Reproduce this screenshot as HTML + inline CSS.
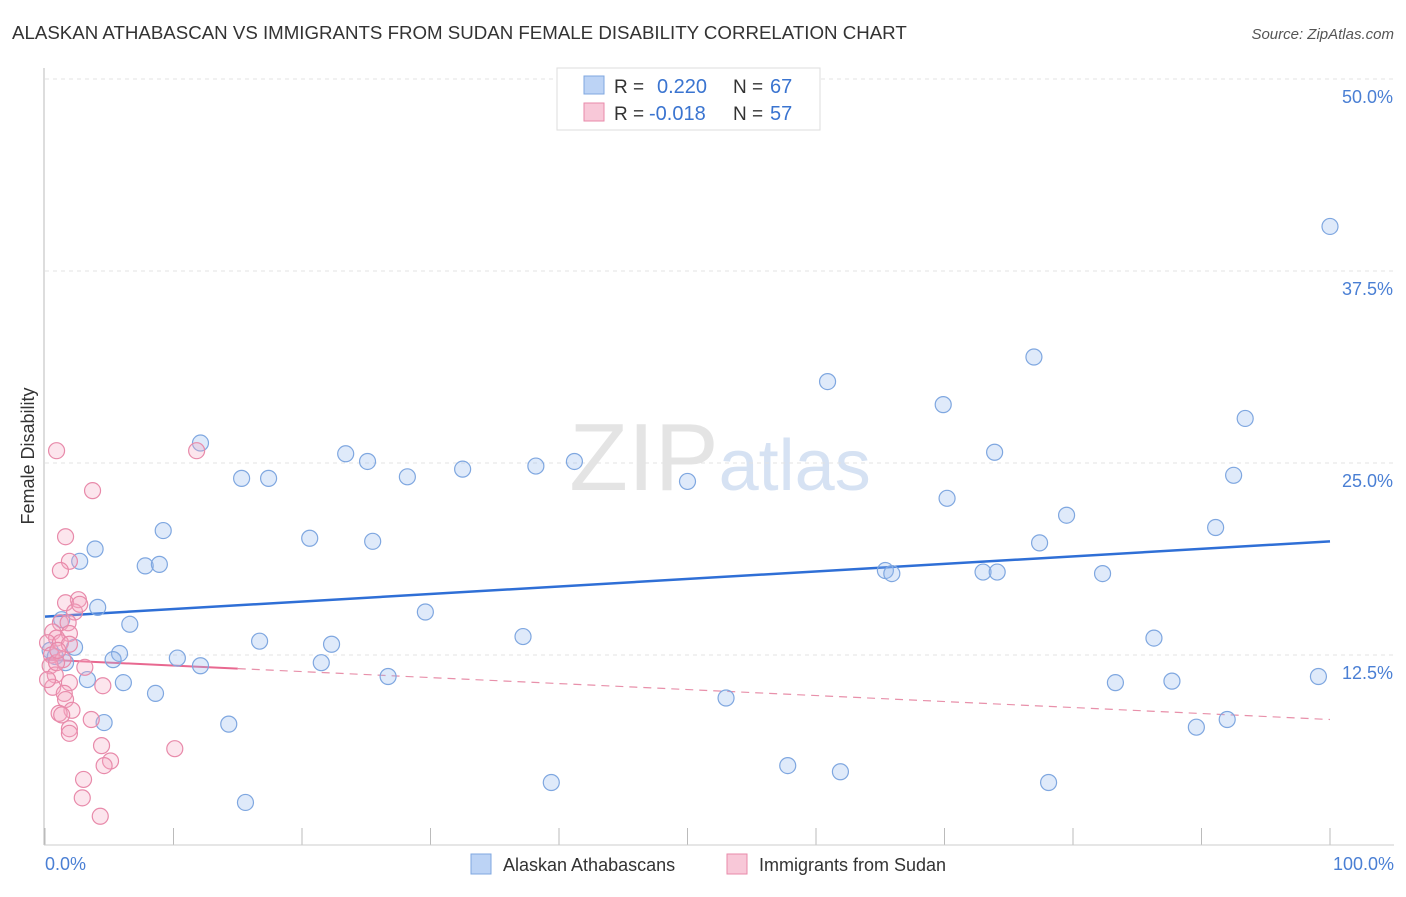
<!DOCTYPE html>
<html><head><meta charset="utf-8"><style>
body{margin:0;background:#fff;font-family:"Liberation Sans",sans-serif;}
svg text{font-family:"Liberation Sans",sans-serif;}
</style></head><body>
<svg id="chart" width="1406" height="892" viewBox="0 0 1406 892" xmlns="http://www.w3.org/2000/svg">
<text x="12" y="39" font-size="18.7" fill="#333">ALASKAN ATHABASCAN VS IMMIGRANTS FROM SUDAN FEMALE DISABILITY CORRELATION CHART</text>
<text x="1394" y="39" font-size="15" fill="#555" font-style="italic" text-anchor="end">Source: ZipAtlas.com</text>
<text x="720" y="490" font-size="96" fill="#e4e4e4" text-anchor="middle" font-family="Liberation Serif"><tspan>ZIP</tspan><tspan fill="#d6e2f3" font-family="Liberation Sans" font-size="72">atlas</tspan></text>
<g id="grid"></g>
<line x1="44" y1="68" x2="44" y2="845" stroke="#bbb"/>
<line x1="44" y1="845" x2="1394" y2="845" stroke="#ccc"/>
<text transform="translate(34,456) rotate(-90)" font-size="18" fill="#333" text-anchor="middle">Female Disability</text>
<text x="45" y="870" font-size="18" fill="#4a7fd4">0.0%</text>
<text x="1394" y="870" font-size="18" fill="#4a7fd4" text-anchor="end">100.0%</text>
<g id="lines"></g>
<g id="points"></g>
<g>
<rect x="557" y="68" width="263" height="62" fill="#fff" stroke="#ddd"/>
<rect x="584" y="76" width="20" height="18" fill="#bcd3f5" stroke="#7fa7e0"/>
<rect x="584" y="103" width="20" height="18" fill="#f8c8d8" stroke="#e88aaa"/>
<text x="614" y="93" font-size="19" fill="#333">R = </text><text x="657" y="93" font-size="20" fill="#3a74d0">0.220</text>
<text x="733" y="93" font-size="19" fill="#333">N = </text><text x="770" y="93" font-size="20" fill="#3a74d0">67</text>
<text x="614" y="120" font-size="19" fill="#333">R = </text><text x="649" y="120" font-size="20" fill="#3a74d0">-0.018</text>
<text x="733" y="120" font-size="19" fill="#333">N = </text><text x="770" y="120" font-size="20" fill="#3a74d0">57</text>
</g>
<g>
<rect x="471" y="854" width="20" height="20" fill="#bcd3f5" stroke="#7fa7e0"/>
<text x="503" y="871" font-size="18" fill="#333">Alaskan Athabascans</text>
<rect x="727" y="854" width="20" height="20" fill="#f8c8d8" stroke="#e88aaa"/>
<text x="759" y="871" font-size="18" fill="#333">Immigrants from Sudan</text>
</g>
</svg>
<script>
const yTicks=[12.5,25,37.5,50];
const yTickLabels=["12.5%","25.0%","37.5%","50.0%"];
const xTicks=[0,10,20,30,40,50,60,70,80,90,100];
const blueX=[100,76.96,60.9,69.9,93.4,12.1,23.4,25.1,73.9,32.5,38.2,41.2,15.3,17.4,28.2,50.0,92.5,70.2,79.5,91.1,9.2,20.6,25.5,77.4,3.9,2.7,7.8,8.9,65.4,65.9,73.0,74.1,82.3,4.1,29.6,6.6,37.2,86.3,16.7,22.3,1.3,2.3,0.4,5.8,5.3,10.3,12.1,21.5,1.6,0.8,26.7,3.3,6.1,83.3,87.7,99.1,8.6,53.0,4.6,14.3,89.6,92.0,57.8,61.9,39.4,78.1,15.6];
const blueY=[40.4,31.9,30.3,28.8,27.9,26.3,25.6,25.1,25.7,24.6,24.8,25.1,24.0,24.0,24.1,23.8,24.2,22.7,21.6,20.8,20.6,20.1,19.9,19.8,19.4,18.6,18.3,18.4,18.0,17.8,17.9,17.9,17.8,15.6,15.3,14.5,13.7,13.6,13.4,13.2,14.8,13.0,12.8,12.6,12.2,12.3,11.8,12.0,12.0,12.4,11.1,10.9,10.7,10.7,10.8,11.1,10.0,9.7,8.1,8.0,7.8,8.3,5.3,4.9,4.2,4.2,2.9];
const pinkX=[0.9,11.8,3.7,1.6,1.9,1.2,2.6,1.6,2.3,1.2,1.8,0.6,1.9,0.9,0.2,1.2,1.9,0.5,1.4,0.4,3.1,0.8,1.9,4.5,0.6,1.5,1.6,2.1,1.1,1.3,3.6,1.9,1.9,4.4,10.1,5.1,4.6,3.0,2.9,4.3,0.2,0.9,2.7,1.0];
const pinkY=[25.8,25.8,23.2,20.2,18.6,18.0,16.1,15.9,15.3,14.6,14.6,14.0,13.9,13.6,13.3,13.3,13.2,12.5,12.2,11.8,11.7,11.2,10.7,10.5,10.4,10.0,9.6,8.9,8.7,8.6,8.3,7.7,7.4,6.6,6.4,5.6,5.3,4.4,3.2,2.0,10.9,12.0,15.8,12.8];
const blueTrend=[15.0,19.9];
const pinkTrend=[12.2,8.3];
const pinkSolidEnd=15;
const NS="http://www.w3.org/2000/svg";
const X=v=>45+v*12.85, Y=v=>847-v*15.36;
function mk(t,a,p){const e=document.createElementNS(NS,t);for(const k in a)e.setAttribute(k,a[k]);p.appendChild(e);return e;}
const grid=document.getElementById('grid');
yTicks.forEach((t,i)=>{
 const l=mk('line',{x1:45,x2:1394,y1:Y(t),y2:Y(t),stroke:'#e3e3e3','stroke-dasharray':'4,4'},grid);
 
 
 const tx=mk('text',{x:1393,y:Y(t)+24,'font-size':18,fill:'#4a7fd4','text-anchor':'end'},grid);
 tx.textContent=yTickLabels[i];
 
 
});
xTicks.forEach(t=>{
 const l=mk('line',{x1:X(t),x2:X(t),y1:828,y2:845,stroke:'#bbb'},grid);
 
 
});
const pts=document.getElementById('points');
blueX.forEach((x,i)=>{
 const c=mk('circle',{cx:X(x),cy:Y(blueY[i]),r:8,fill:'rgba(150,185,240,0.3)',stroke:'#7fa7e0','stroke-width':1.2},pts);
 
 
});
pinkX.forEach((x,i)=>{
 const c=mk('circle',{cx:X(x),cy:Y(pinkY[i]),r:8,fill:'rgba(245,170,195,0.3)',stroke:'#e88aaa','stroke-width':1.2},pts);
 
 
});
const lines=document.getElementById('lines');
const bl=mk('line',{x1:X(0),y1:Y(blueTrend[0]),x2:X(100),y2:Y(blueTrend[1]),stroke:'#2f6fd6','stroke-width':2.5},lines);


const pAt=v=>pinkTrend[0]+(pinkTrend[1]-pinkTrend[0])*v/100;
const ps=mk('line',{x1:X(0),y1:Y(pAt(0)),x2:X(pinkSolidEnd),y2:Y(pAt(pinkSolidEnd)),stroke:'#e86890','stroke-width':2},lines);


const pd=mk('line',{x1:X(pinkSolidEnd),y1:Y(pAt(pinkSolidEnd)),x2:X(100),y2:Y(pAt(100)),stroke:'#e890aa','stroke-width':1.2,'stroke-dasharray':'8,6'},lines);


</script>
</body></html>
